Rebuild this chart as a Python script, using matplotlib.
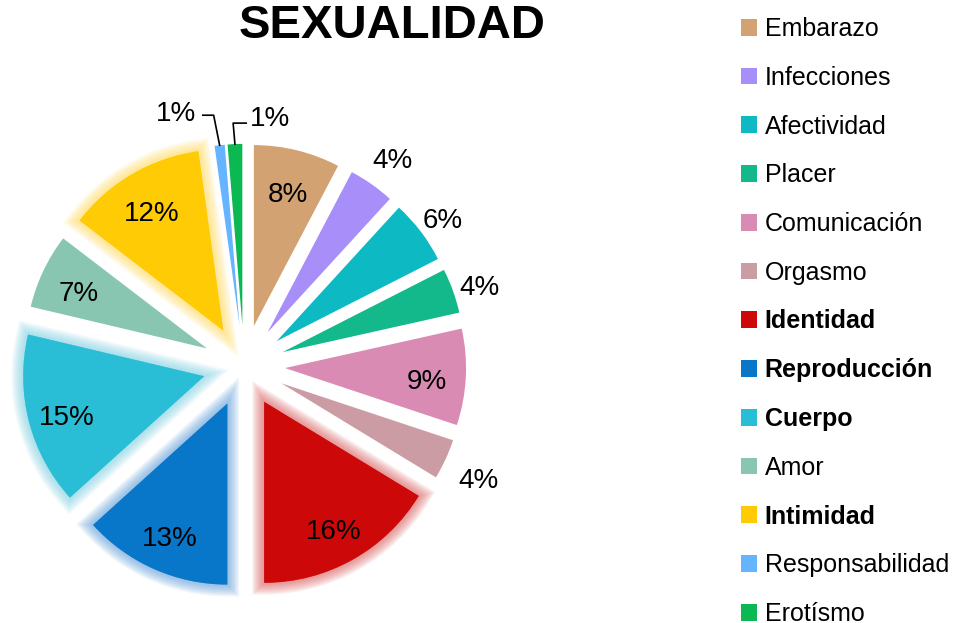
import matplotlib
matplotlib.use("Agg")
import matplotlib.pyplot as plt
import matplotlib.patheffects as pe
from matplotlib.patches import Patch
import numpy as np

plt.rcParams['font.family'] = ['Liberation Sans', 'DejaVu Sans']

categorias = ["Embarazo", "Infecciones", "Afectividad", "Placer", "Comunicación",
              "Orgasmo", "Identidad", "Reproducción", "Cuerpo", "Amor",
              "Intimidad", "Responsabilidad", "Erotísmo"]
# shares (labels show them rounded)
porcentajes = [7.7, 4.1, 5.7, 4.0, 8.6, 3.6, 16.3, 13.3, 15.4, 6.7, 12.4, 0.9, 1.3]
colores = ["#D3A273", "#A78EF8", "#0DB9C2", "#13B98A", "#DA8BB3", "#CC9CA5",
           "#CC0808", "#0877C9", "#29BED6", "#88C6B1", "#FFCB05", "#66B4FF", "#0BB852"]
destacados = ["Identidad", "Reproducción", "Cuerpo", "Intimidad"]
brillo = {"Identidad": "#D94C4C", "Reproducción": "#4F95D6",
          "Cuerpo": "#6FCDE2", "Intimidad": "#FFD84A"}
fuera = ["Infecciones", "Afectividad", "Placer", "Orgasmo"]

W, H = 964, 623
fig = plt.figure(figsize=(W / 100, H / 100), dpi=100)

# pie centre / scale in pixels
cx, cy, esc = 244, 366, 181.0
ax = fig.add_axes([0, 0, 482 / W, 1])
expl = 0.227

wedges, _ = ax.pie(porcentajes, colors=colores, startangle=90, counterclock=False,
                   explode=[expl] * len(porcentajes), radius=1.0)
ax.set_xlim(-cx / esc, (482 - cx) / esc)
ax.set_ylim(-(H - cy) / esc, cy / esc)
ax.set_aspect('auto')

for w, cat in zip(wedges, categorias):
    w.set_linewidth(0)
    if cat in destacados:
        g = brillo[cat]
        efectos = [pe.Stroke(linewidth=lw, foreground=g, alpha=0.09)
                   for lw in range(17, 1, -2)]
        w.set_path_effects(efectos + [pe.Normal()])

dy = -0.035  # drop the labels a little (bbox centre sits above the digits)
for w, cat, v in zip(wedges, categorias, porcentajes):
    ang = np.deg2rad((w.theta1 + w.theta2) / 2)
    d = np.array([np.cos(ang), np.sin(ang)])
    txt = f"{round(v)}%"
    if cat == "Responsabilidad":
        p = (1 + expl) * d
        knee = p + np.array([-0.033, 0.166])
        end = knee + np.array([-0.06, 0])
        ax.plot([p[0], knee[0], end[0]], [p[1], knee[1], end[1]], color="black", lw=1.2)
        ax.text(end[0] - 0.035, end[1] + 0.044 + dy, txt, fontsize=20, ha='right', va='center')
    elif cat == "Erotísmo":
        p = (1 + expl) * d
        knee = p + np.array([-0.01, 0.116])
        end = knee + np.array([0.072, 0])
        ax.plot([p[0], knee[0], end[0]], [p[1], knee[1], end[1]], color="black", lw=1.2)
        ax.text(end[0] + 0.022, end[1] + 0.055 + dy, txt, fontsize=20, ha='left', va='center')
    elif cat in fuera:
        r = 1.43 if cat in ("Orgasmo", "Infecciones") else 1.38
        pos = r * d
        ax.text(pos[0], pos[1] + dy, txt, fontsize=20, ha='center', va='center')
    else:
        pos = 1.01 * d
        ax.text(pos[0], pos[1] + dy, txt, fontsize=20, ha='center', va='center')

fig.text(392 / W, 1 - 38 / H, "SEXUALIDAD", fontsize=34, fontweight='bold',
         ha='center', va='baseline')

handles = [Patch(facecolor=c, edgecolor='none') for c in colores]
leg = fig.legend(handles, categorias, loc='upper left',
                 bbox_to_anchor=(741 / W, 1 - 17 / H), frameon=False,
                 fontsize=18, handlelength=0.65, handleheight=0.65,
                 handletextpad=0.3, labelspacing=0.99, borderpad=0,
                 borderaxespad=0)
for t in leg.get_texts():
    if t.get_text() in destacados:
        t.set_fontweight('bold')

fig.savefig("out.png", dpi=100)
